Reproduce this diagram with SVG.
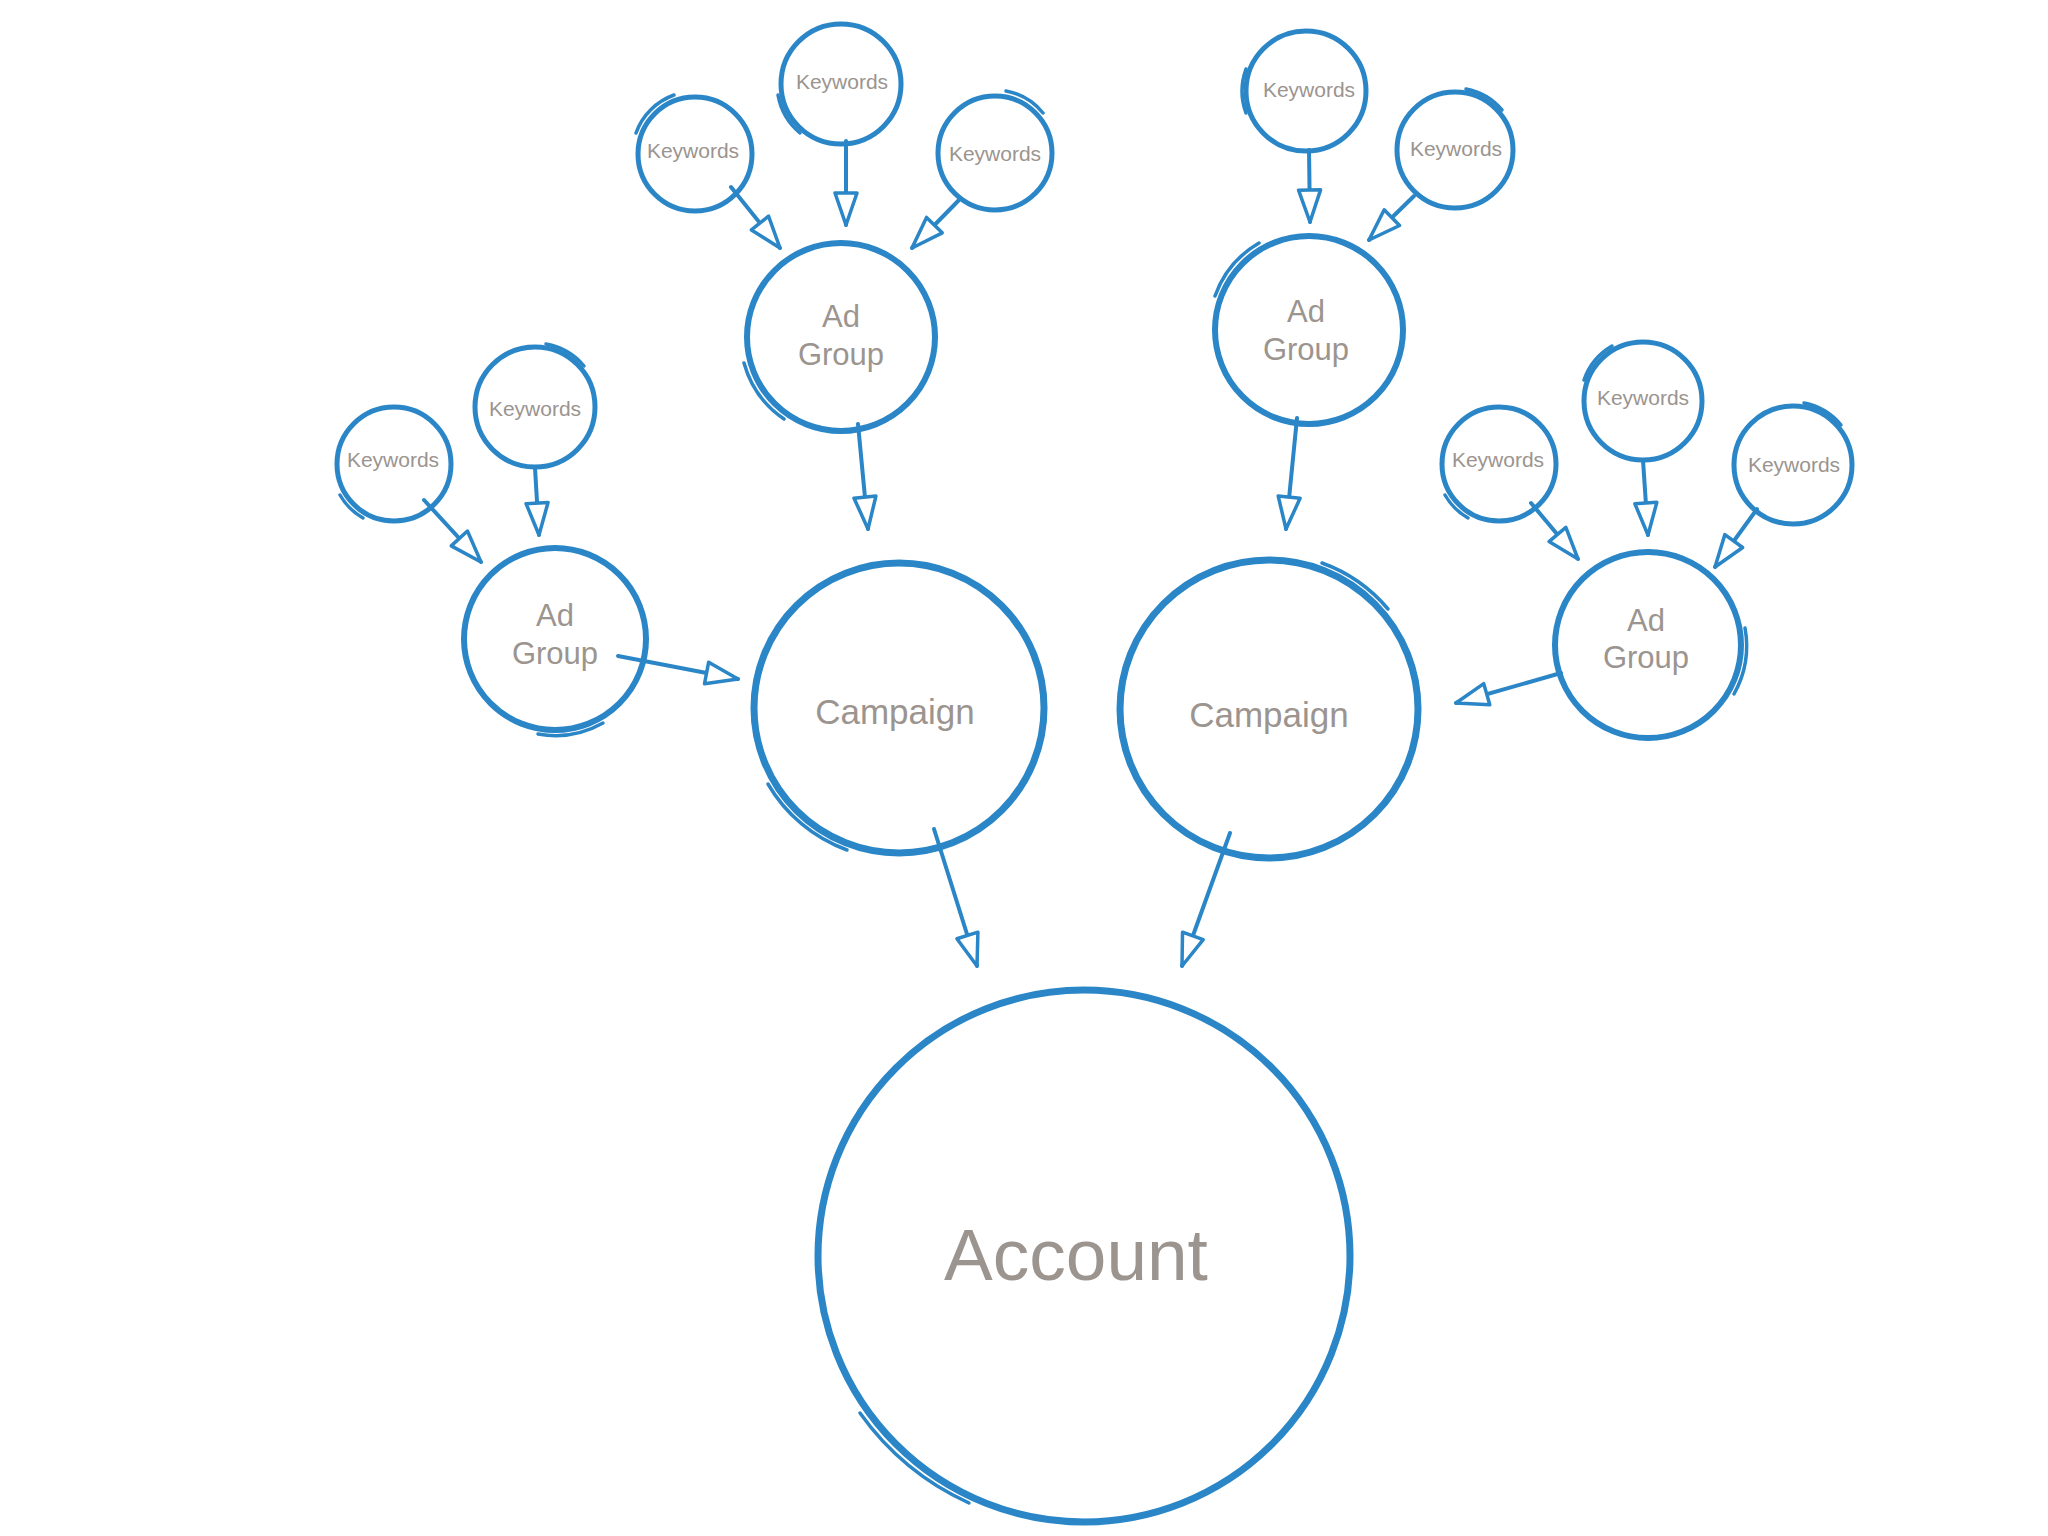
<svg xmlns="http://www.w3.org/2000/svg" width="2048" height="1536" viewBox="0 0 2048 1536">
<style>
.c{fill:none;stroke:#2a86c6;stroke-width:6;stroke-linecap:round}
.s{fill:none;stroke:#2a86c6;stroke-width:4;stroke-linecap:round}
.b{stroke-width:7}
.k{stroke-width:5}
.e{fill:none;stroke:#2a86c6;stroke-width:3.5;stroke-linecap:round}
.t{font-family:"Liberation Sans",Arial,sans-serif;fill:#9b948f;text-anchor:middle}
.tk{font-size:21px}
.ta{font-size:31px}
.tc{font-size:35px}
.tx{font-size:73px}
.a{fill:none;stroke:#2a86c6;stroke-width:4;stroke-linecap:round;marker-end:url(#arr)}
</style>
<defs>
<marker id="arr" markerUnits="userSpaceOnUse" markerWidth="40" markerHeight="30" viewBox="0 0 40 30" refX="36" refY="15" orient="auto">
<path d="M4,4 L36,15 L4,26 Z" fill="#ffffff" stroke="#2a86c6" stroke-width="3.5" stroke-linejoin="round"/>
</marker>
</defs>
<rect width="2048" height="1536" fill="#ffffff"/>

<g id="connectors">
<line class="a" x1="731" y1="187" x2="780" y2="248"/>
<line class="a" x1="846" y1="141" x2="846" y2="225"/>
<line class="a" x1="960" y1="199" x2="912" y2="248"/>
<line class="a" x1="1309" y1="150" x2="1310" y2="222"/>
<line class="a" x1="1414" y1="196" x2="1369" y2="240"/>
<line class="a" x1="858" y1="424" x2="868" y2="529"/>
<line class="a" x1="1297" y1="418" x2="1286" y2="529"/>
<line class="a" x1="424" y1="500" x2="481" y2="562"/>
<line class="a" x1="535" y1="468" x2="539" y2="535"/>
<line class="a" x1="618" y1="656" x2="738" y2="679"/>
<line class="a" x1="1531" y1="503" x2="1578" y2="559"/>
<line class="a" x1="1643" y1="460" x2="1648" y2="535"/>
<line class="a" x1="1757" y1="509" x2="1715" y2="567"/>
<line class="a" x1="1561" y1="673" x2="1456" y2="703"/>
<line class="a" x1="934" y1="829" x2="977" y2="966"/>
<line class="a" x1="1230" y1="833" x2="1182" y2="966"/>
</g>

<g id="account">
<circle class="c b" cx="1084" cy="1256" r="266"/>
<path class="e" d="M860 1413 A273 273 0 0 0 969 1503"/>
<text class="t tx" x="1076" y="1280">Account</text>
</g>

<g id="campaign-left">
<circle class="c b" cx="899" cy="708" r="145"/>
<path class="e" d="M768 784 A151 151 0 0 0 847 850"/>
<text class="t tc" x="895" y="724">Campaign</text>
</g>

<g id="campaign-right">
<circle class="c b" cx="1269" cy="709" r="149"/>
<path class="e" d="M1322 563 A155 155 0 0 1 1388 609"/>
<text class="t tc" x="1269" y="727">Campaign</text>
</g>

<g id="adgroup-top-left">
<circle class="c" cx="841" cy="337" r="94"/>
<path class="e" d="M744 363 A100 100 0 0 0 784 419"/>
<text class="t ta" x="841" y="327">Ad</text>
<text class="t ta" x="841" y="365">Group</text>
</g>

<g id="adgroup-top-right">
<circle class="c" cx="1309" cy="330" r="94"/>
<path class="e" d="M1215 296 A100 100 0 0 1 1259 243"/>
<text class="t ta" x="1306" y="322">Ad</text>
<text class="t ta" x="1306" y="360">Group</text>
</g>

<g id="adgroup-left">
<circle class="c" cx="555" cy="639" r="91"/>
<path class="e" d="M603 723 A97 97 0 0 1 538 734"/>
<text class="t ta" x="555" y="626">Ad</text>
<text class="t ta" x="555" y="664">Group</text>
</g>

<g id="adgroup-right">
<circle class="c" cx="1648" cy="645" r="93"/>
<path class="e" d="M1745 628 A99 99 0 0 1 1734 694"/>
<text class="t ta" x="1646" y="631">Ad</text>
<text class="t ta" x="1646" y="668">Group</text>
</g>

<g id="keywords-1">
<circle class="c k" cx="695" cy="154" r="57"/>
<path class="e" d="M636 133 A63 63 0 0 1 674 95"/>
<text class="t tk" x="693" y="158">Keywords</text>
</g>
<g id="keywords-2">
<circle class="c k" cx="841" cy="84" r="60"/>
<path class="e" d="M778 95 A64 64 0 0 0 800 133"/>
<text class="t tk" x="842" y="89">Keywords</text>
</g>
<g id="keywords-3">
<circle class="c k" cx="995" cy="153" r="57"/>
<path class="e" d="M1006 91 A63 63 0 0 1 1043 113"/>
<text class="t tk" x="995" y="161">Keywords</text>
</g>
<g id="keywords-4">
<circle class="c k" cx="1306" cy="91" r="60"/>
<path class="e" d="M1246 113 A64 64 0 0 1 1246 69"/>
<text class="t tk" x="1309" y="97">Keywords</text>
</g>
<g id="keywords-5">
<circle class="c k" cx="1455" cy="150" r="58"/>
<path class="e" d="M1466 89 A62 62 0 0 1 1502 110"/>
<text class="t tk" x="1456" y="156">Keywords</text>
</g>
<g id="keywords-6">
<circle class="c k" cx="394" cy="464" r="57"/>
<path class="e" d="M340 495 A62 62 0 0 0 363 518"/>
<text class="t tk" x="393" y="467">Keywords</text>
</g>
<g id="keywords-7">
<circle class="c k" cx="535" cy="407" r="60"/>
<path class="e" d="M546 344 A64 64 0 0 1 584 366"/>
<text class="t tk" x="535" y="416">Keywords</text>
</g>
<g id="keywords-8">
<circle class="c k" cx="1499" cy="464" r="57"/>
<path class="e" d="M1445 495 A62 62 0 0 0 1468 518"/>
<text class="t tk" x="1498" y="467">Keywords</text>
</g>
<g id="keywords-9">
<circle class="c k" cx="1643" cy="401" r="59"/>
<path class="e" d="M1584 380 A63 63 0 0 1 1612 346"/>
<text class="t tk" x="1643" y="405">Keywords</text>
</g>
<g id="keywords-10">
<circle class="c k" cx="1793" cy="465" r="59"/>
<path class="e" d="M1804 403 A63 63 0 0 1 1841 425"/>
<text class="t tk" x="1794" y="472">Keywords</text>
</g>
</svg>
